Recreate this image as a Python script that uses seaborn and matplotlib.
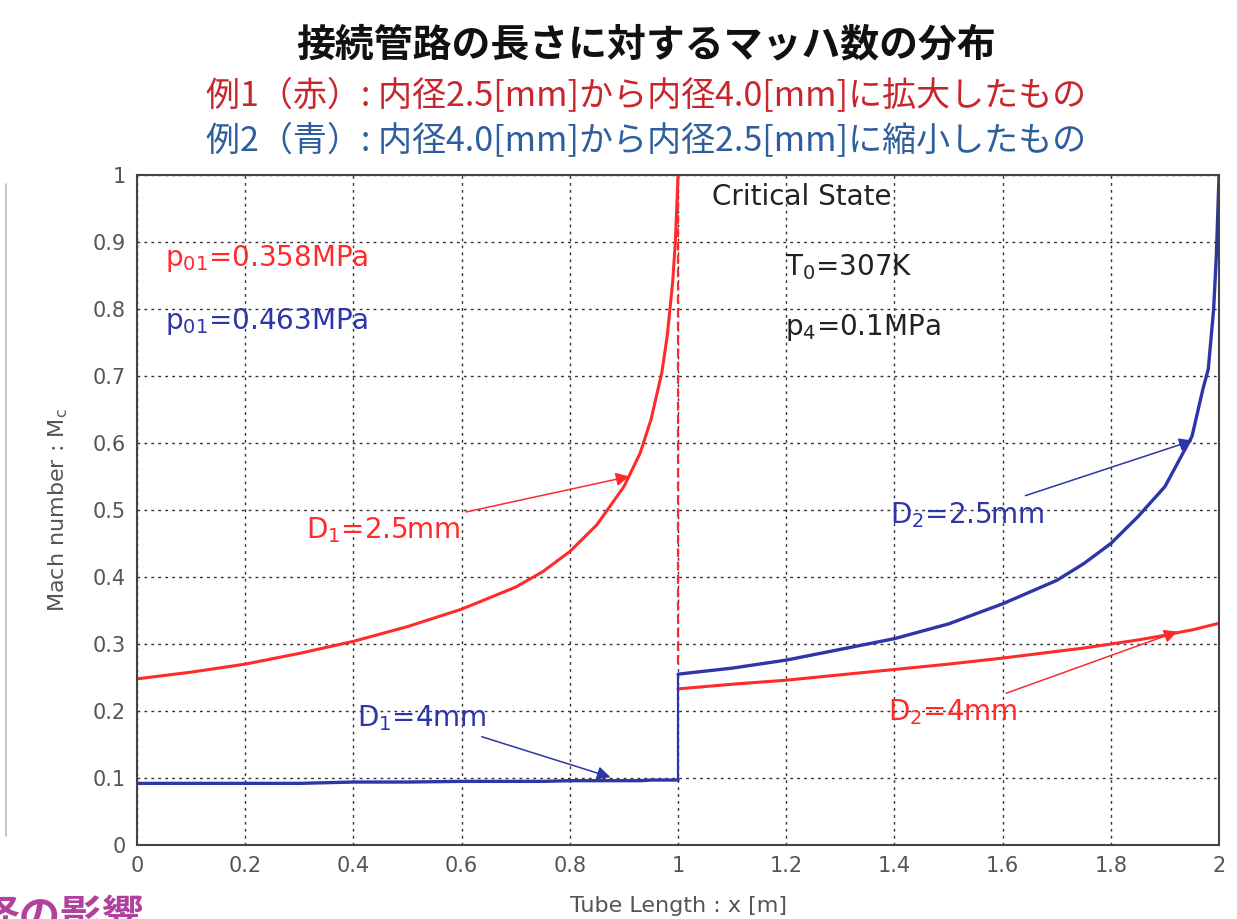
import numpy as np
import pandas as pd
import matplotlib
matplotlib.use("Agg")
import matplotlib.pyplot as plt
import seaborn as sns

# data
x_up = [0.0, 0.1, 0.2, 0.3, 0.4, 0.5, 0.6, 0.7, 0.75, 0.8, 0.85, 0.9, 0.93, 0.95, 0.97, 0.98, 0.99, 0.995, 1.0]
red_up = [0.248, 0.258, 0.270, 0.286, 0.304, 0.326, 0.352, 0.385, 0.408, 0.438, 0.478, 0.535, 0.585, 0.635, 0.705, 0.760, 0.840, 0.900, 1.0]
blue_up = [0.092, 0.092, 0.092, 0.092, 0.094, 0.094, 0.095, 0.095, 0.095, 0.096, 0.096, 0.096, 0.096, 0.097, 0.097, 0.097, 0.097, 0.097, 0.097]

x_down = [1.0, 1.1, 1.2, 1.3, 1.4, 1.5, 1.6, 1.7, 1.75, 1.8, 1.85, 1.9, 1.93, 1.95, 1.97, 1.98, 1.99, 1.995, 2.0]
blue_down = [0.255, 0.264, 0.276, 0.292, 0.308, 0.330, 0.360, 0.395, 0.420, 0.450, 0.490, 0.535, 0.580, 0.610, 0.680, 0.710, 0.800, 0.880, 1.0]
red_down = [0.233, 0.240, 0.246, 0.254, 0.262, 0.270, 0.279, 0.289, 0.294, 0.300, 0.306, 0.313, 0.318, 0.321, 0.325, 0.327, 0.329, 0.330, 0.331]

# jumps at the junction x = 1
red_jump = [1.0, 0.27]
blue_jump = [0.097, 0.255]

xticks = [0, 0.2, 0.4, 0.6, 0.8, 1, 1.2, 1.4, 1.6, 1.8, 2]
xtick_labels = ["0", "0.2", "0.4", "0.6", "0.8", "1", "1.2", "1.4", "1.6", "1.8", "2"]
yticks = [0, 0.1, 0.2, 0.3, 0.4, 0.5, 0.6, 0.7, 0.8, 0.9, 1]
ytick_labels = ["0", "0.1", "0.2", "0.3", "0.4", "0.5", "0.6", "0.7", "0.8", "0.9", "1"]

RED = "#ff2a2a"
BLUE = "#2d35a8"
GRAY = "#555555"

sns.set_style("white")
plt.rcParams["font.family"] = ["DejaVu Sans", "Noto Sans CJK JP"]
plt.rcParams["mathtext.default"] = "regular"

fig = plt.figure(figsize=(12.37, 9.19), dpi=100)
ax = fig.add_axes([0.1108, 0.0805, 0.8747, 0.7291])

df_up = pd.DataFrame({"x": x_up, "red": red_up, "blue": blue_up})
df_down = pd.DataFrame({"x": x_down, "red": red_down, "blue": blue_down})

sns.lineplot(data=df_up, x="x", y="red", ax=ax, color=RED, lw=2.2, sort=False, estimator=None)
sns.lineplot(data=df_up, x="x", y="blue", ax=ax, color=BLUE, lw=2.4, sort=False, estimator=None)
sns.lineplot(data=df_down, x="x", y="blue", ax=ax, color=BLUE, lw=2.4, sort=False, estimator=None)
sns.lineplot(data=df_down, x="x", y="red", ax=ax, color=RED, lw=2.2, sort=False, estimator=None)
ax.plot([1.0, 1.0], red_jump, color=RED, lw=1.6, ls=(0, (4, 2)))
ax.plot([1.0, 1.0], blue_jump, color=BLUE, lw=1.6)

ax.set_xlim(0, 2)
ax.set_ylim(0, 1)
ax.set_xticks(xticks)
ax.set_xticklabels(xtick_labels)
ax.set_yticks(yticks)
ax.set_yticklabels(ytick_labels)
ax.grid(True, color="#333333", ls=(0, (2, 3)), lw=1.0)
ax.tick_params(direction="in", length=6, labelsize=15, labelcolor=GRAY, color="#444444", pad=8)
for s in ax.spines.values():
    s.set_color("#444444")
    s.set_linewidth(1.5)

ax.set_xlabel("Tube Length : x [m]", fontsize=16, color=GRAY, labelpad=14)
ax.set_ylabel("Mach number : M$_c$", fontsize=16, color=GRAY, labelpad=16)

# in-plot labels
tsize = 20
ax.text(0.052, 0.876, "p$_{01}$=0.358MPa", color=RED, fontsize=tsize, va="center")
ax.text(0.052, 0.782, "p$_{01}$=0.463MPa", color=BLUE, fontsize=tsize, va="center")
ax.text(1.063, 0.967, "Critical State", color="#222222", fontsize=tsize, va="center")
ax.text(1.198, 0.863, "T$_0$=307K", color="#222222", fontsize=tsize, va="center")
ax.text(1.198, 0.772, "p$_4$=0.1MPa", color="#222222", fontsize=tsize, va="center")

arrow_kw = dict(arrowstyle="-|>", lw=1.1, mutation_scale=20)
ax.annotate("D$_1$=2.5mm", xy=(0.915, 0.551), xytext=(0.597, 0.47),
            color=RED, fontsize=tsize, ha="right", va="center",
            arrowprops=dict(color=RED, **arrow_kw))
ax.annotate("D$_1$=4mm", xy=(0.88, 0.1), xytext=(0.645, 0.19),
            color=BLUE, fontsize=tsize, ha="right", va="center",
            arrowprops=dict(color=BLUE, **arrow_kw))
ax.annotate("D$_2$=2.5mm", xy=(1.956, 0.605), xytext=(1.678, 0.493),
            color=BLUE, fontsize=tsize, ha="right", va="center",
            arrowprops=dict(color=BLUE, **arrow_kw))
ax.annotate("D$_2$=4mm", xy=(1.928, 0.32), xytext=(1.628, 0.198),
            color=RED, fontsize=tsize, ha="right", va="center",
            arrowprops=dict(color=RED, **arrow_kw))

# titles
jp = ["Noto Sans CJK JP", "DejaVu Sans"]
fig.text(0.522, 0.951, "接続管路の長さに対するマッハ数の分布", ha="center", va="center",
         fontsize=28, fontweight="bold", color="#111111", family=jp)
fig.text(0.522, 0.896, "例1（赤）: 内径2.5[mm]から内径4.0[mm]に拡大したもの", ha="center", va="center",
         fontsize=24.5, color="#c8262d", family=jp)
fig.text(0.522, 0.847, "例2（青）: 内径4.0[mm]から内径2.5[mm]に縮小したもの", ha="center", va="center",
         fontsize=24.5, color="#2f5e9c", family=jp)

# leftover slide decorations (cut off at the bottom, as in the source slide)
fig.text(-0.018, -0.022, "径の影響", ha="left", va="bottom", fontsize=30, fontweight="bold",
         color="#b0429e", family=jp)
fig.add_artist(plt.Line2D([0.005, 0.005], [0.09, 0.8], color="#bbbbbb", lw=1.2))

fig.savefig("out.png", dpi=100)
